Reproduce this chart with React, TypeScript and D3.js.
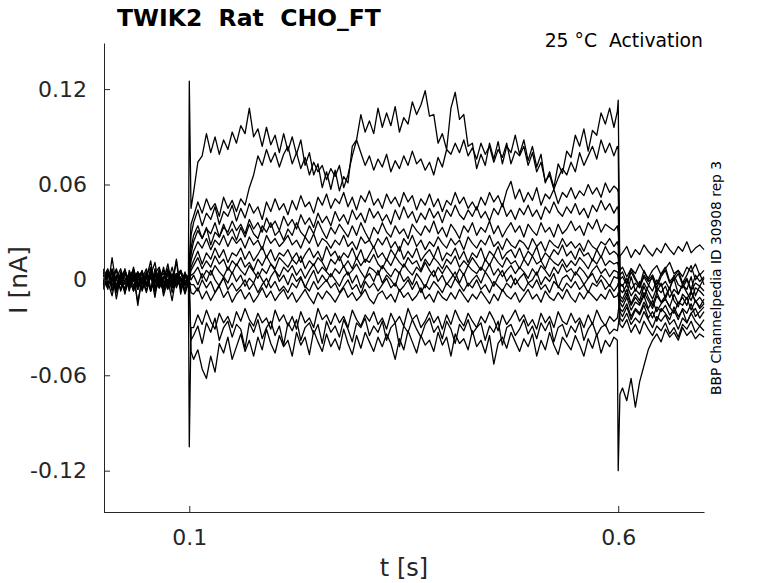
import * as d3 from 'd3';
import React, { useEffect, useRef } from 'react';

// sample times (s): baseline, step on, test pulse, step off, tail
const timeS = [
  0, 0.005, 0.01, 0.015, 0.02, 0.025, 0.03, 0.035, 0.04, 0.045,
  0.05, 0.055, 0.06, 0.065, 0.07, 0.075, 0.08, 0.085, 0.09, 0.095,
  0.099, 0.1, 0.102,
  0.105, 0.11, 0.115, 0.12, 0.125, 0.13, 0.135, 0.14, 0.145, 0.15, 0.155,
  0.16, 0.165, 0.17, 0.175, 0.18, 0.185, 0.19, 0.195, 0.2, 0.205, 0.21,
  0.215, 0.22, 0.225, 0.23, 0.235, 0.24, 0.245, 0.25, 0.255, 0.26, 0.265,
  0.27, 0.275, 0.28, 0.285, 0.29, 0.295, 0.3, 0.305, 0.31, 0.315, 0.32,
  0.325, 0.33, 0.335, 0.34, 0.345, 0.35, 0.355, 0.36, 0.365, 0.37, 0.375,
  0.38, 0.385, 0.39, 0.395, 0.4, 0.405, 0.41, 0.415, 0.42, 0.425, 0.43,
  0.435, 0.44, 0.445, 0.45, 0.455, 0.46, 0.465, 0.47, 0.475, 0.48, 0.485,
  0.49, 0.495, 0.5, 0.505, 0.51, 0.515, 0.52, 0.525, 0.53, 0.535, 0.54,
  0.545, 0.55, 0.555, 0.56, 0.565, 0.57, 0.575, 0.58, 0.585, 0.59, 0.595,
  0.599, 0.6, 0.602,
  0.605, 0.61, 0.615, 0.62, 0.625, 0.63, 0.635, 0.64, 0.645, 0.65,
  0.655, 0.66, 0.665, 0.67, 0.675, 0.68, 0.685, 0.69, 0.695, 0.7,
];

// currents in pA, one array per sweep
const traceA = [
  3, -6, 14, -4, 2, -9, 6, -1, 5, -7,
  1, 12, -5, 3, -8, 4, -2, 13, -6, 2,
  1, 125, 45,
  55, 74, 78, 92, 80, 90, 79, 88, 82, 93, 86,
  97, 92, 108, 90, 95, 84, 96, 85, 91, 80, 92,
  81, 90, 79, 88, 72, 80, 66, 73, 58, 68, 57,
  69, 56, 65, 61, 84, 88, 104, 93, 100, 92, 108,
  96, 105, 97, 109, 93, 102, 98, 112, 104, 110, 119,
  103, 104, 86, 92, 82, 108, 118, 101, 104, 84, 86,
  70, 79, 72, 86, 76, 87, 73, 84, 80, 91, 79,
  88, 75, 84, 71, 79, 61, 68, 58, 73, 67, 81,
  77, 91, 84, 95, 81, 94, 91, 105, 98, 108, 96,
  106, 113, -4,
  -3, -10, 2, -7, -1, -11, -4, 3, -8, -2,
  -12, -5, 1, -9, -3, -6, 2, -10, -4, -7,
];
const traceB = [
  -4, 5, -7, 2, -1, 6, -3, 8, -6, 1,
  -8, 3, 11, -5, 0, 10, -4, 12, -9, 4,
  -2, 10, 35,
  40, 49, 42, 51, 44, 48, 40, 52, 45, 50, 43,
  51, 47, 58, 66, 78, 72, 82, 74, 80, 71, 79,
  84, 73, 80, 70, 77, 66, 74, 68, 72, 63, 70,
  65, 72, 58, 66, 78, 88, 80, 72, 78, 69, 76,
  71, 79, 68, 75, 70, 78, 72, 81, 73, 76, 69,
  74, 66, 77, 71, 82, 79, 86, 80, 88, 78, 83,
  76, 86, 79, 84, 74, 82, 77, 86, 73, 81, 78,
  84, 72, 80, 68, 74, 62, 66, 57, 64, 70, 66,
  74, 68, 80, 72, 78, 84, 76, 88, 80, 86, 78,
  84, 82, -10,
  -12, -6, -15, -9, -13, -4, -11, -16, -8, -14,
  -10, -5, -13, -17, -9, -12, -7, -14, -11, -15,
];
const traceC1 = [
  6, -3, 2, -8, 4, 1, -5, 7, -2, -6,
  3, 8, -4, 0, -7, 5, 2, -3, 6, -1,
  2, 0, 28,
  36, 44, 34, 42, 38, 46, 35, 43, 40, 47, 37,
  45, 39, 48, 42, 46, 38, 49, 43, 51, 44, 48,
  41, 50, 44, 53, 46, 49, 42, 52, 47, 54, 45,
  51, 48, 55, 46, 52, 44, 53, 49, 56, 47, 51,
  45, 54, 48, 52, 46, 55, 49, 53, 44, 51, 47,
  54, 46, 51, 43, 50, 47, 55, 48, 52, 45, 49,
  44, 52, 47, 55, 49, 53, 46, 56, 62, 51, 57,
  49, 55, 50, 58, 47, 54, 51, 57, 48, 55, 52,
  58, 51, 56, 53, 60, 54, 58, 52, 61, 55, 59,
  57, 55, 3,
  5, -2, 7, 1, -4, 6, 0, 3, -3, 4,
  8, -1, 2, 6, -2, 3, 9, 0, 4, -3,
];
const traceC2 = [
  -5, 3, -1, 6, -7, 0, 4, -4, 5, -2,
  2, -6, 7, -3, 1, 5, -8, 3, -1, 4,
  1, 0, 20,
  28, 34, 26, 32, 29, 36, 27, 33, 30, 37, 31,
  35, 29, 38, 32, 36, 30, 39, 33, 37, 31, 40,
  34, 38, 32, 41, 35, 39, 33, 42, 36, 40, 34,
  43, 37, 41, 35, 44, 38, 42, 36, 45, 39, 43,
  37, 41, 35, 44, 38, 46, 39, 43, 36, 42, 38,
  45, 39, 43, 36, 44, 40, 47, 41, 38, 44, 40,
  46, 39, 43, 37, 45, 41, 48, 40, 44, 38, 45,
  41, 47, 40, 44, 38, 46, 42, 49, 43, 40, 46,
  42, 48, 41, 45, 39, 47, 43, 50, 44, 48, 42,
  46, 44, -14,
  -17, -11, -19, -14, -16, -10, -18, -13, -20, -15,
  -12, -17, -21, -14, -16, -11, -19, -13, -18, -15,
];
const traceD1 = [
  2, 7, -3, 1, -6, 4, -1, 6, -4, 0,
  5, -7, 3, -2, 8, -5, 1, 4, -3, 2,
  -1, 0, 16,
  24, 31, 26, 33, 22, 30, 27, 35, 28, 32, 25,
  33, 27, 35, 29, 26, 34, 30, 36, 28, 31, 25,
  32, 28, 36, 30, 27, 34, 29, 37, 31, 26, 33,
  29, 35, 31, 27, 34, 28, 36, 30, 25, 33, 29,
  36, 30, 27, 34, 29, 32, 26, 35, 31, 28, 34,
  30, 37, 29, 33, 27, 35, 31, 26, 34, 30, 36,
  28, 33, 30, 37, 29, 34, 27, 32, 36, 30, 34,
  27, 35, 31, 28, 36, 30, 33, 27, 35, 29, 32,
  37, 31, 34, 28, 36, 32, 38, 30, 35, 33, 31,
  34, 30, 6,
  8, 2, 7, 4, 10, 5, 1, 6, 9, 3,
  7, 11, 4, 6, 2, 8, 5, 10, 3, 6,
];
const traceD2 = [
  -3, 4, 0, -6, 5, -2, 3, -7, 1, 4,
  -4, 6, -1, -5, 2, 7, -3, 0, 5, -2,
  0, 2, 12,
  18, 24, 20, 26, 19, 25, 22, 28, 21, 27, 23,
  26, 20, 27, 22, 25, 19, 28, 23, 26, 21, 24,
  28, 22, 25, 20, 27, 23, 29, 21, 26, 24, 20,
  25, 22, 28, 21, 24, 19, 27, 23, 25, 20, 26,
  22, 27, 20, 24, 18, 26, 22, 28, 21, 25, 19,
  24, 21, 27, 23, 20, 26, 22, 25, 19, 27, 23,
  20, 25, 22, 28, 21, 24, 19, 26, 22, 20, 25,
  23, 19, 26, 21, 24, 18, 25, 22, 20, 26, 21,
  24, 20, 23, 18, 25, 21, 19, 24, 22, 26, 21,
  24, 21, -20,
  -23, -17, -25, -19, -22, -16, -24, -20, -26, -18,
  -21, -25, -17, -23, -19, -27, -21, -18, -24, -20,
];
const traceE = [
  5, -3, 1, 7, -2, -6, 3, 6, -1, -5,
  4, -7, 2, 0, -4, 6, -2, 3, -6, 1,
  3, 1, 8,
  12, 18, 10, 17, 13, 20, 14, 19, 11, 17, 15,
  20, 13, 18, 12, 16, 21, 14, 19, 12, 17, 15,
  19, 13, 17, 11, 16, 20, 14, 18, 12, 21, 15,
  18, 12, 17, 14, 20, 13, 19, 11, 16, 21, 14,
  17, 12, 19, 15, 21, 13, 18, 14, 20, 12, 16,
  19, 14, 21, 12, 17, 15, 20, 13, 18, 11, 17,
  14, 20, 12, 18, 15, 21, 13, 17, 19, 14, 20,
  13, 18, 15, 21, 12, 17, 14, 19, 16, 22, 15,
  18, 13, 20, 15, 17, 12, 19, 14, 21, 16, 18,
  16, 14, 0,
  2, -3, 5, 0, -4, 3, -1, 1, -5, 2,
  6, -2, 0, 4, -3, 1, -6, 3, -1, 2,
];
const traceF = [
  -1, 6, -4, 2, 3, -7, 0, 5, -3, 1,
  7, -5, -2, 4, 0, -6, 3, 1, -4, 5,
  -2, 0, 6,
  9, 14, 7, 12, 8, 15, 10, 13, 6, 12, 9,
  14, 8, 11, 6, 13, 9, 15, 10, 7, 14, 11,
  8, 13, 10, 15, 7, 12, 9, 14, 11, 6, 13,
  10, 15, 8, 12, 7, 14, 9, 13, 11, 16, 10,
  7, 13, 9, 15, 11, 8, 14, 10, 12, 6, 13,
  9, 14, 11, 7, 13, 10, 15, 8, 12, 9, 14,
  10, 6, 13, 9, 15, 11, 8, 14, 10, 12, 7,
  13, 9, 15, 10, 12, 7, 14, 11, 9, 13, 8,
  12, 9, 14, 11, 7, 13, 10, 15, 9, 12, 10,
  11, 9, -6,
  -8, -3, -10, -6, -9, -2, -7, -12, -5, -8,
  -4, -11, -6, -9, -3, -8, -13, -5, -7, -10,
];
const traceG = [
  4, -4, 6, 0, -3, 7, -5, 1, 5, -3,
  2, -7, 4, 8, -2, 0, -5, 3, 6, -4,
  2, 0, 3,
  4, 8, 1, 6, 3, 9, 5, 2, 8, 4, 10,
  6, 3, 9, 5, 1, 7, 4, 10, 6, 2, 8,
  5, 9, 3, 7, 1, 6, 10, 4, 8, 5, 2,
  7, 4, 9, 3, 6, 10, 5, 1, 8, 6, 3,
  9, 5, 2, 7, 4, 10, 6, 3, 8, 5, 11,
  6, 2, 8, 4, 9, 5, 1, 7, 3, 9, 6,
  4, 8, 5, 10, 3, 7, 2, 6, 9, 4, 8,
  5, 1, 7, 3, 9, 6, 2, 8, 4, 10, 5,
  7, 3, 8, 5, 1, 6, 9, 4, 7, 2, 6,
  5, 4, -24,
  -26, -21, -28, -24, -27, -20, -25, -30, -23, -26,
  -22, -28, -25, -31, -24, -27, -21, -26, -29, -25,
];
const traceH = [
  -6, 2, 7, -3, 0, 5, -7, 3, -1, 6,
  -4, 1, 4, -5, 2, -2, 8, -3, 0, 3,
  -1, 2, 0,
  3, -3, 4, -1, 6, 0, -4, 2, -2, 5, -1,
  3, -4, 1, -2, 5, 0, -5, 2, 6, -1, 3,
  -3, 4, -1, 2, -5, 1, 6, -2, 3, -1, 4,
  0, -4, 2, 5, -2, 3, -5, 1, 4, -1, 6,
  -2, 3, 0, -4, 5, -1, 2, -3, 4, 0, -5,
  2, 6, -1, 3, -3, 1, 5, -2, 4, -4, 0,
  3, -2, 5, 1, -4, 2, 6, -1, 3, -3, 1,
  4, -2, 0, 5, -3, 2, -1, 4, -5, 1, 3,
  -1, 5, 2, -3, 1, 4, -2, 3, 0, -4, 2,
  1, 2, 15,
  17, 21, 14, 19, 16, 22, 18, 15, 20, 17,
  23, 19, 16, 21, 18, 24, 17, 20, 22, 19,
];
const traceI = [
  1, -4, 5, -7, 2, 6, -2, -5, 3, 0,
  -3, 7, -6, 1, 4, -1, -5, 2, 6, -3,
  2, -1, -3,
  -3, -7, 0, -5, -1, -8, -3, 1, -6, -2, -7,
  -4, 0, -6, -2, -8, -3, 1, -5, -1, -7, -4,
  -8, -2, -5, 1, -4, -7, -1, -6, -3, 0, -5,
  -2, -8, -4, 0, -6, -3, -9, -1, -5, -2, -7,
  -3, 1, -5, -2, -7, -4, 0, -6, -1, -8, -3,
  -6, -1, -4, -8, -2, -5, 1, -3, -7, -2, -5,
  0, -6, -3, -8, -1, -4, -7, -2, -5, 1, -4,
  -7, -2, -5, 0, -6, -3, -8, -1, -4, -7, -2,
  -5, -1, -6, -3, -8, -2, -4, 0, -6, -3, -7,
  -4, -2, -2,
  -4, 1, -6, -2, -5, 2, -3, -7, 0, -4,
  -1, -6, 3, -3, -5, 0, -7, -2, -4, 1,
];
const traceJ = [
  -2, 5, -6, 1, 7, -3, 0, -7, 3, 5,
  -4, 2, -1, 6, -5, 0, 4, -3, 1, -6,
  1, 0, -8,
  -9, -5, -12, -7, -13, -8, -4, -11, -7, -14, -9,
  -6, -12, -8, -14, -10, -5, -11, -7, -13, -9, -6,
  -12, -8, -14, -10, -6, -11, -15, -8, -12, -7, -10,
  -14, -9, -5, -11, -8, -13, -10, -6, -12, -15, -9,
  -7, -12, -9, -14, -6, -11, -8, -13, -10, -5, -12,
  -9, -14, -7, -11, -13, -8, -12, -6, -10, -14, -9,
  -12, -7, -11, -15, -9, -13, -6, -10, -12, -8, -14,
  -10, -6, -12, -9, -14, -7, -11, -13, -8, -12, -6,
  -11, -14, -8, -12, -7, -10, -13, -9, -12, -6, -11,
  -10, -8, -28,
  -30, -25, -33, -28, -34, -26, -31, -35, -29, -32,
  -27, -34, -30, -36, -28, -31, -26, -33, -29, -32,
];
const traceK = [
  7, -1, -10, 3, 0, -6, 4, 2, -14, 1,
  -7, 5, -2, 6, -10, 0, 3, -5, 2, -8,
  -2, -105, -30,
  -30, -22, -28, -19, -26, -31, -21, -27, -23, -30, -20,
  -26, -18, -25, -29, -21, -27, -24, -31, -19, -26, -22,
  -29, -23, -31, -20, -27, -24, -30, -18, -25, -22, -28,
  -21, -27, -23, -30, -19, -25, -29, -22, -26, -20, -28,
  -24, -31, -21, -27, -23, -29, -18, -25, -22, -30, -26,
  -20, -27, -23, -31, -22, -28, -19, -25, -29, -21, -26,
  -30, -23, -27, -20, -25, -32, -22, -28, -24, -19, -26,
  -22, -29, -25, -31, -21, -27, -23, -30, -20, -26, -28,
  -21, -27, -24, -30, -22, -28, -19, -25, -29, -23, -26,
  -24, -20, -12,
  -14, -9, -16, -11, -15, -8, -13, -18, -10, -14,
  -12, -17, -9, -15, -11, -16, -8, -13, -17, -12,
];
const traceL = [
  -3, 6, 0, -5, 2, -7, 4, 1, -6, 5,
  -2, 3, -8, 0, 6, -4, 2, -1, 5, -3,
  0, -2, -38,
  -35, -29, -40, -27, -33, -24, -38, -30, -26, -36, -28,
  -31, -43, -27, -33, -25, -37, -30, -26, -35, -29, -41,
  -27, -32, -25, -38, -30, -27, -34, -28, -40, -26, -33,
  -29, -36, -25, -31, -39, -27, -30, -24, -35, -29, -33,
  -26, -38, -30, -27, -42, -29, -33, -25, -31, -36, -28,
  -24, -33, -29, -37, -26, -31, -40, -28, -32, -25, -34,
  -30, -27, -38, -29, -33, -26, -41, -30, -28, -35, -31,
  -25, -34, -29, -37, -27, -32, -26, -39, -30, -28, -36,
  -29, -33, -26, -38, -31, -27, -35, -30, -28, -34, -31,
  -32, -29, -18,
  -20, -15, -23, -18, -21, -14, -19, -24, -17, -20,
  -16, -22, -19, -25, -18, -21, -15, -23, -20, -17,
];
const traceM = [
  0, -5, 6, -12, 3, -8, 1, 5, -16, 2,
  -3, 4, -11, 7, -4, 0, -13, 3, 1, -9,
  -1, -3, -45,
  -50, -44, -56, -62, -48, -58, -40, -46, -36, -50, -42,
  -34, -45, -38, -48, -36, -44, -31, -40, -46, -35, -42,
  -38, -48, -33, -41, -36, -47, -32, -39, -45, -34, -42,
  -37, -44, -31, -40, -47, -35, -43, -33, -39, -45, -36,
  -42, -34, -40, -50, -37, -44, -32, -39, -46, -35, -41,
  -38, -45, -33, -41, -36, -48, -34, -40, -37, -44, -32,
  -42, -38, -46, -35, -53, -40, -36, -43, -33, -39, -45,
  -37, -42, -34, -48, -38, -44, -33, -41, -47, -36, -40,
  -44, -35, -41, -48, -37, -43, -34, -46, -38, -42, -36,
  -38, -120, -72,
  -68, -76, -62, -80, -64, -54, -44, -38, -34, -39,
  -31, -36, -33, -38, -30, -35, -32, -37, -34, -36,
];

const traces = [
  traceA, traceB, traceC1, traceC2, traceD1, traceD2, traceE, traceF,
  traceG, traceH, traceI, traceJ, traceK, traceL, traceM,
];

const yTicks = [-120, -60, 0, 60, 120];
const yTickLabels = ['-0.12', '-0.06', '0', '0.06', '0.12'];
const xTicks = [0.1, 0.6];
const xTickLabels = ['0.1', '0.6'];

const FONT = "'DejaVu Sans', sans-serif";
const AXIS = '#262626';

const App: React.FC = () => {
  const ref = useRef<SVGSVGElement | null>(null);

  useEffect(() => {
    if (!ref.current) return;
    const svg = d3.select(ref.current);
    svg.selectAll('*').remove();

    const x = d3.scaleLinear().domain([0, 0.7]).range([103.5, 704]);
    const y = d3.scaleLinear().domain([-146, 149]).range([512, 43]);

    const line = d3
      .line<number>()
      .defined((_, i) => i < timeS.length)
      .x((_, i) => x(timeS[i]))
      .y((d) => y(d));

    // sweeps
    svg
      .append('g')
      .selectAll('path')
      .data(traces)
      .enter()
      .append('path')
      .attr('d', (d) => line(d) ?? '')
      .attr('fill', 'none')
      .attr('stroke', '#000')
      .attr('stroke-width', 1.3)
      .attr('stroke-linejoin', 'round');

    // y axis, ticks pointing inward
    const yAxis = svg
      .append('g')
      .attr('transform', 'translate(104,0)')
      .call(
        d3
          .axisLeft(y)
          .tickValues(yTicks)
          .tickSizeInner(-6)
          .tickSizeOuter(0)
          .tickPadding(17)
          .tickFormat((_, i) => yTickLabels[i])
      );
    yAxis.select('.domain').attr('stroke', AXIS);
    yAxis.selectAll('.tick line').attr('stroke', AXIS);
    yAxis.selectAll('text').attr('fill', AXIS).style('font-family', FONT).style('font-size', '22px');

    // x axis
    const xAxis = svg
      .append('g')
      .attr('transform', 'translate(0,512)')
      .call(
        d3
          .axisBottom(x)
          .tickValues(xTicks)
          .tickSizeInner(-6)
          .tickSizeOuter(0)
          .tickPadding(17)
          .tickFormat((_, i) => xTickLabels[i])
      );
    xAxis.select('.domain').attr('stroke', AXIS);
    xAxis.selectAll('.tick line').attr('stroke', AXIS);
    xAxis.selectAll('text').attr('fill', AXIS).style('font-family', FONT).style('font-size', '22px');

    // labels
    svg
      .append('text')
      .attr('x', 404)
      .attr('y', 576)
      .attr('text-anchor', 'middle')
      .attr('fill', AXIS)
      .style('font-family', FONT)
      .style('font-size', '24px')
      .text('t [s]');

    svg
      .append('text')
      .attr('transform', 'translate(27,280) rotate(-90)')
      .attr('text-anchor', 'middle')
      .attr('fill', AXIS)
      .style('font-family', FONT)
      .style('font-size', '25px')
      .text('I [nA]');

    svg
      .append('text')
      .attr('x', 117)
      .attr('y', 26)
      .attr('fill', '#000')
      .style('font-family', FONT)
      .style('font-size', '23.5px')
      .style('font-weight', 'bold')
      .style('white-space', 'pre')
      .text('TWIK2  Rat  CHO_FT');

    svg
      .append('text')
      .attr('x', 703)
      .attr('y', 47)
      .attr('text-anchor', 'end')
      .attr('fill', '#000')
      .style('font-family', FONT)
      .style('font-size', '18.8px')
      .style('white-space', 'pre')
      .text('25 °C  Activation');

    svg
      .append('text')
      .attr('transform', 'translate(721,278) rotate(-90)')
      .attr('text-anchor', 'middle')
      .attr('fill', '#000')
      .style('font-family', FONT)
      .style('font-size', '13.8px')
      .text('BBP Channelpedia ID 30908 rep 3');
  }, []);

  return (
    <svg
      ref={ref}
      width={778}
      height={583}
      style={{ position: 'absolute', left: 0, top: 0, background: '#fff' }}
    />
  );
};

export default App;
